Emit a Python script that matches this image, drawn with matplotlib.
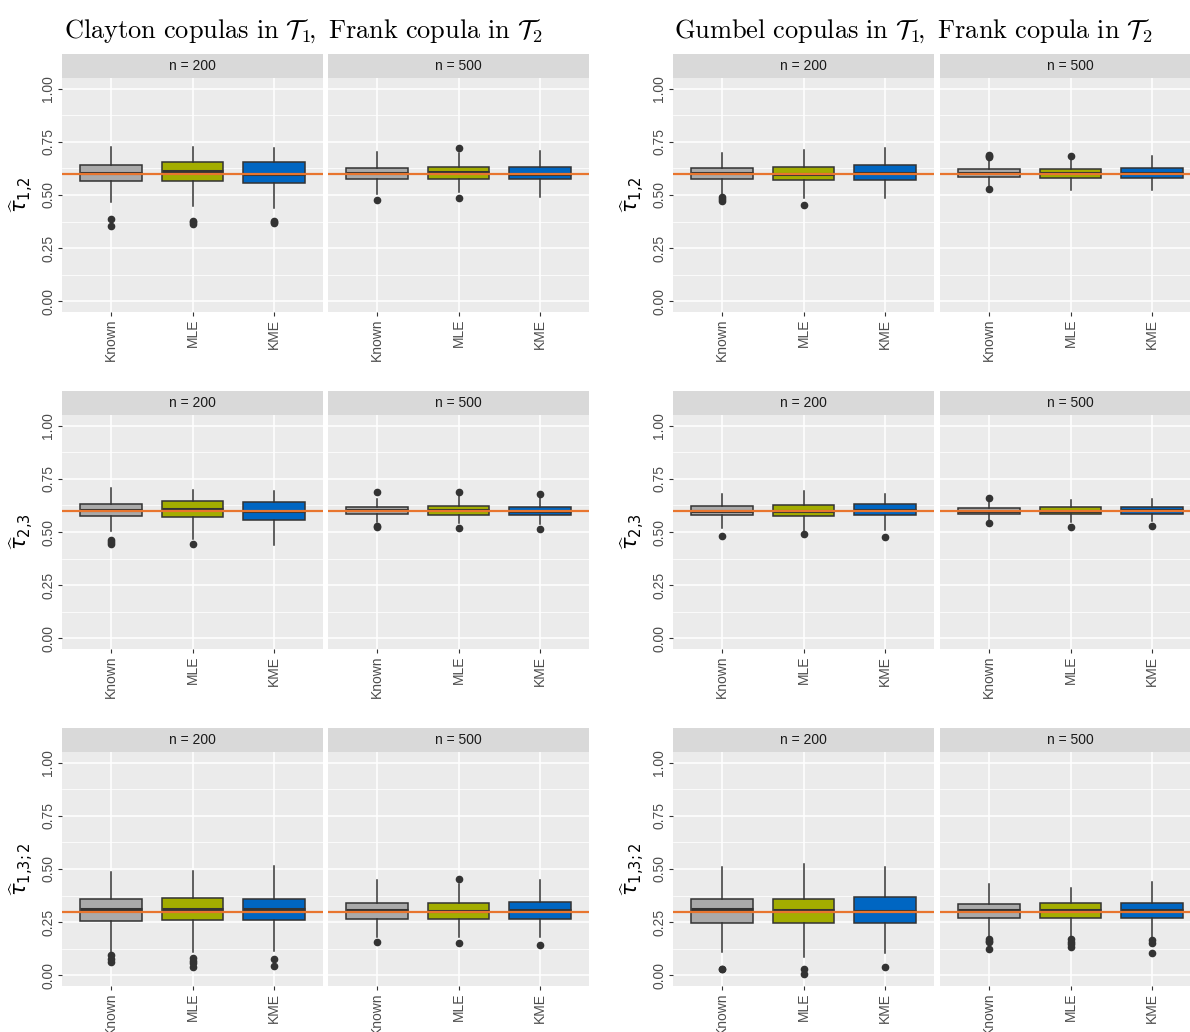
import matplotlib
matplotlib.use("Agg")
import matplotlib.pyplot as plt

plt.rcParams['font.family'] = ['Liberation Sans', 'DejaVu Sans']

methods = ["Known", "MLE", "KME"]
sample_sizes = [200, 500]
true_tau = [0.6, 0.6, 0.3]
y_ticks = [0.0, 0.25, 0.5, 0.75, 1.0]
y_tick_labels = ["0.00", "0.25", "0.50", "0.75", "1.00"]
row_labels = [r"$\widehat{\tau}_{1{,}2}$", r"$\widehat{\tau}_{2{,}3}$", r"$\widehat{\tau}_{1{,}3{;}2}$"]
block_titles = [
    r"$\mathrm{Clayton\ copulas\ in\ }\mathcal{T}_1\!\mathrm{,\ Frank\ copula\ in\ }\mathcal{T}_2$",
    r"$\mathrm{Gumbel\ copulas\ in\ }\mathcal{T}_1\!\mathrm{,\ Frank\ copula\ in\ }\mathcal{T}_2$",
]

# five-number summaries per method: [whisker low, q1, median, q3, whisker high]
clayton_t12_n200 = [[0.466, 0.567, 0.603, 0.641, 0.727], [0.450, 0.566, 0.611, 0.656, 0.727], [0.437, 0.556, 0.598, 0.653, 0.723]]
clayton_t12_n500 = [[0.505, 0.577, 0.603, 0.627, 0.700], [0.512, 0.575, 0.608, 0.630, 0.697], [0.492, 0.573, 0.600, 0.630, 0.708]]
clayton_t23_n200 = [[0.505, 0.575, 0.602, 0.630, 0.706], [0.469, 0.569, 0.609, 0.645, 0.698], [0.441, 0.558, 0.600, 0.641, 0.695]]
clayton_t23_n500 = [[0.547, 0.584, 0.602, 0.619, 0.656], [0.542, 0.581, 0.602, 0.620, 0.672], [0.536, 0.578, 0.598, 0.617, 0.659]]
clayton_t132_n200 = [[0.111, 0.255, 0.311, 0.358, 0.486], [0.111, 0.258, 0.314, 0.362, 0.491], [0.114, 0.262, 0.312, 0.361, 0.512]]
clayton_t132_n500 = [[0.178, 0.267, 0.306, 0.341, 0.447], [0.178, 0.266, 0.303, 0.341, 0.431], [0.178, 0.266, 0.306, 0.344, 0.450]]

gumbel_t12_n200 = [[0.505, 0.575, 0.602, 0.627, 0.697], [0.484, 0.569, 0.597, 0.630, 0.712], [0.486, 0.572, 0.602, 0.641, 0.719]]
gumbel_t12_n500 = [[0.536, 0.586, 0.603, 0.622, 0.669], [0.523, 0.581, 0.602, 0.622, 0.669], [0.523, 0.581, 0.602, 0.627, 0.683]]
gumbel_t23_n200 = [[0.519, 0.578, 0.598, 0.620, 0.680], [0.500, 0.573, 0.597, 0.627, 0.691], [0.508, 0.578, 0.605, 0.633, 0.680]]
gumbel_t23_n500 = [[0.558, 0.586, 0.600, 0.614, 0.645], [0.547, 0.583, 0.600, 0.617, 0.652], [0.552, 0.586, 0.602, 0.619, 0.653]]
gumbel_t132_n200 = [[0.111, 0.248, 0.311, 0.358, 0.509], [0.084, 0.245, 0.308, 0.358, 0.525], [0.106, 0.245, 0.302, 0.367, 0.508]]
gumbel_t132_n500 = [[0.181, 0.272, 0.308, 0.337, 0.431], [0.181, 0.272, 0.305, 0.339, 0.412], [0.181, 0.272, 0.305, 0.339, 0.437]]

# outlying estimates per method
clayton_t12_n200_out = [[0.388, 0.356], [0.380, 0.372, 0.366], [0.377, 0.371, 0.367]]
clayton_t12_n500_out = [[0.477], [0.719, 0.486], []]
clayton_t23_n200_out = [[0.464, 0.453, 0.442], [0.445], []]
clayton_t23_n500_out = [[0.687, 0.530, 0.522], [0.689, 0.517], [0.678, 0.514]]
clayton_t132_n200_out = [[0.098, 0.077, 0.064], [0.080, 0.068, 0.059, 0.041], [0.078, 0.044]]
clayton_t132_n500_out = [[0.155], [0.455, 0.152], [0.144]]

gumbel_t12_n200_out = [[0.489, 0.481, 0.473], [0.455], []]
gumbel_t12_n500_out = [[0.689, 0.683, 0.677, 0.530], [0.681], []]
gumbel_t23_n200_out = [[0.481], [0.491], [0.478]]
gumbel_t23_n500_out = [[0.659, 0.541], [0.523], [0.530]]
gumbel_t132_n200_out = [[0.031, 0.028], [0.031, 0.005], [0.037]]
gumbel_t132_n500_out = [[0.173, 0.162, 0.155, 0.122], [0.169, 0.158, 0.147, 0.131], [0.166, 0.153, 0.103]]

summaries = [
    [[clayton_t12_n200, clayton_t12_n500], [gumbel_t12_n200, gumbel_t12_n500]],
    [[clayton_t23_n200, clayton_t23_n500], [gumbel_t23_n200, gumbel_t23_n500]],
    [[clayton_t132_n200, clayton_t132_n500], [gumbel_t132_n200, gumbel_t132_n500]],
]
outliers = [
    [[clayton_t12_n200_out, clayton_t12_n500_out], [gumbel_t12_n200_out, gumbel_t12_n500_out]],
    [[clayton_t23_n200_out, clayton_t23_n500_out], [gumbel_t23_n200_out, gumbel_t23_n500_out]],
    [[clayton_t132_n200_out, clayton_t132_n500_out], [gumbel_t132_n200_out, gumbel_t132_n500_out]],
]

fills = ["#AAAAAA", "#A3AD00", "#0066C2"]
W, H = 1190, 1032
panel_x = [[62, 328], [673, 940]]
panel_w = 261
panel_top = [78, 415, 752]
panel_h = 234
strip_h = 24

fig = plt.figure(figsize=(W / 100, H / 100), dpi=100)

for b in range(2):
    fig.text((303 + 610 * b) / W, 1 - 31 / H, block_titles[b], ha="center", va="center",
             fontsize=19, math_fontfamily="cm")
    for r in range(3):
        for k in range(2):
            x0 = panel_x[b][k]
            y0 = panel_top[r]
            ax = fig.add_axes([x0 / W, 1 - (y0 + panel_h) / H, panel_w / W, panel_h / H])
            ax.set_facecolor("#EBEBEB")
            for s in ax.spines.values():
                s.set_visible(False)

            stats = []
            for m in range(3):
                lo, q1, med, q3, hi = summaries[r][b][k][m]
                stats.append(dict(whislo=lo, q1=q1, med=med, q3=q3, whishi=hi,
                                  fliers=outliers[r][b][k][m]))
            bp = ax.bxp(stats, positions=[1, 2, 3], widths=0.75, patch_artist=True,
                        showcaps=False, manage_ticks=False,
                        boxprops=dict(edgecolor="#333333", linewidth=1.1),
                        medianprops=dict(color="#333333", linewidth=2.2),
                        whiskerprops=dict(color="#333333", linewidth=1.1),
                        flierprops=dict(marker="o", markerfacecolor="#333333",
                                        markeredgecolor="#333333", markersize=4.5))
            for patch, c in zip(bp["boxes"], fills):
                patch.set_facecolor(c)
                patch.set_zorder(3)
            for line in bp["medians"] + bp["whiskers"] + bp["fliers"]:
                line.set_zorder(3)

            ax.axhline(true_tau[r], color="#E8752E", linewidth=1.6, zorder=4)

            ax.set_xlim(0.4, 3.6)
            ax.set_ylim(-0.05, 1.05)
            ax.set_yticks(y_ticks)
            ax.set_yticks([0.125, 0.375, 0.625, 0.875], minor=True)
            ax.grid(which="major", color="white", linewidth=1.1, zorder=0)
            ax.grid(which="minor", axis="y", color="white", linewidth=0.55, zorder=0)
            ax.set_axisbelow(True)
            ax.set_xticks([1, 2, 3])
            ax.set_xticklabels(methods, rotation=90)
            ax.tick_params(axis="both", which="major", length=3, width=0.8, color="#333333",
                           labelcolor="#4D4D4D", labelsize=10, pad=2)
            ax.tick_params(axis="y", which="minor", length=0)
            if k == 0:
                ax.set_yticklabels(y_tick_labels, rotation=90, va="center")
                ax.set_ylabel(row_labels[r], fontsize=15, color="black")
                ax.yaxis.set_label_coords(-0.105, 0.5)
            else:
                ax.tick_params(axis="y", length=0, labelleft=False)

            # facet strip
            sx = fig.add_axes([x0 / W, 1 - y0 / H, panel_w / W, strip_h / H])
            sx.set_facecolor("#D9D9D9")
            sx.set_xticks([])
            sx.set_yticks([])
            for s in sx.spines.values():
                s.set_visible(False)
            sx.text(0.5, 0.5, f"n = {sample_sizes[k]}", ha="center", va="center",
                    fontsize=10, color="#1A1A1A", transform=sx.transAxes)

fig.savefig("out.png", dpi=100)
